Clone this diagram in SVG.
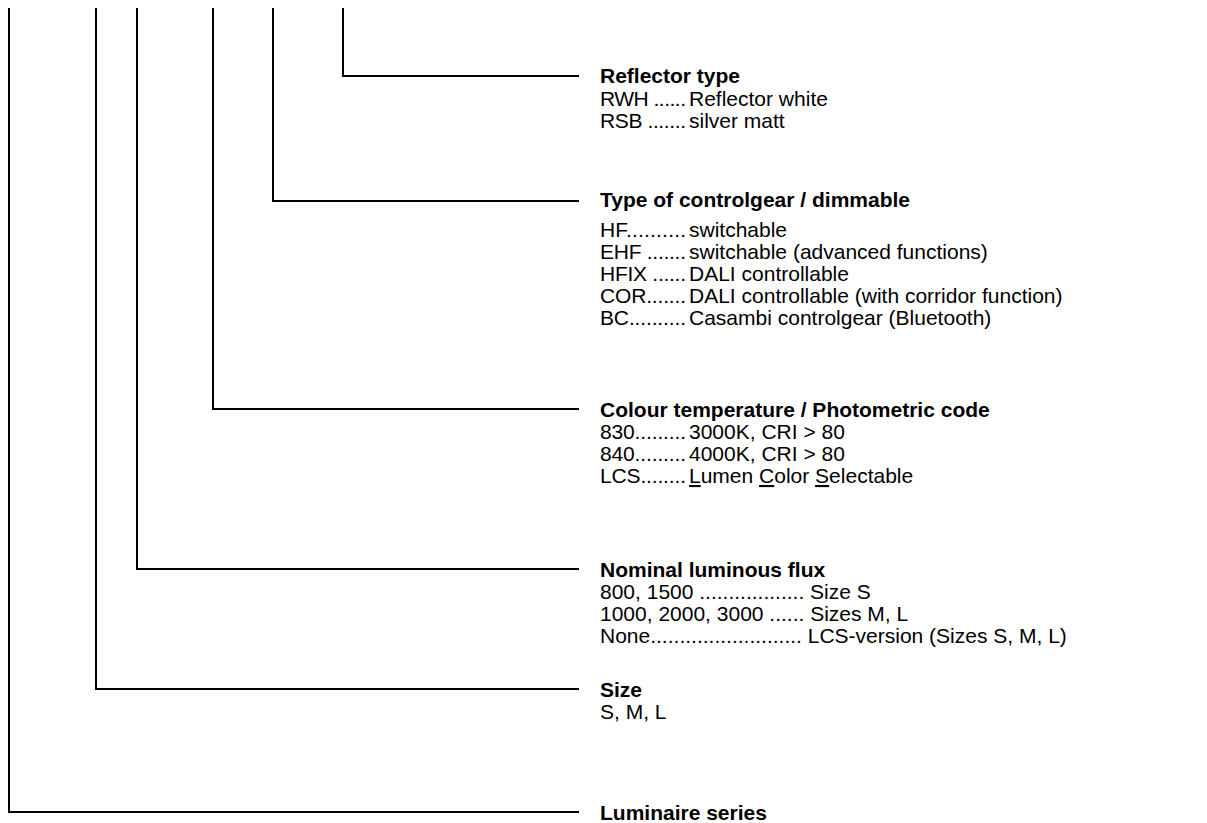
<svg xmlns="http://www.w3.org/2000/svg" width="1207" height="823" viewBox="0 0 1207 823">
<style>
.ln{fill:none;stroke:#000;stroke-width:2}
text{font-family:"Liberation Sans",Arial,sans-serif;font-size:21px;fill:#000}
.t{font-weight:bold}
</style>
<rect width="1207" height="823" fill="#fff"/>
<g id="connectors">
<path class="ln" d="M343,8V76H579"/>
<path class="ln" d="M273,8V201H579"/>
<path class="ln" d="M213,8V409H579"/>
<path class="ln" d="M137,8V569H579"/>
<path class="ln" d="M96,8V689H579"/>
<path class="ln" d="M9,8V812H579"/>
</g>
<g id="reflector">
<text class="t" x="600" y="83">Reflector type</text>
<text x="600" y="106" textLength="86" lengthAdjust="spacing">RWH ......</text><text x="689" y="106">Reflector white</text>
<text x="600" y="128" textLength="86" lengthAdjust="spacing">RSB .......</text><text x="689" y="128">silver matt</text>
</g>
<g id="controlgear">
<text class="t" x="600" y="207">Type of controlgear / dimmable</text>
<text x="600" y="237" textLength="86" lengthAdjust="spacing">HF..........</text><text x="689" y="237">switchable</text>
<text x="600" y="259" textLength="86" lengthAdjust="spacing">EHF .......</text><text x="689" y="259">switchable (advanced functions)</text>
<text x="600" y="281" textLength="86" lengthAdjust="spacing">HFIX ......</text><text x="689" y="281">DALI controllable</text>
<text x="600" y="303" textLength="86" lengthAdjust="spacing">COR.......</text><text x="689" y="303">DALI controllable (with corridor function)</text>
<text x="600" y="325" textLength="86" lengthAdjust="spacing">BC..........</text><text x="689" y="325">Casambi controlgear (Bluetooth)</text>
</g>
<g id="colour">
<text class="t" x="600" y="417">Colour temperature / Photometric code</text>
<text x="600" y="439" textLength="86" lengthAdjust="spacing">830.........</text><text x="689" y="439">3000K, CRI &gt; 80</text>
<text x="600" y="461" textLength="86" lengthAdjust="spacing">840.........</text><text x="689" y="461">4000K, CRI &gt; 80</text>
<text x="600" y="483" textLength="86" lengthAdjust="spacing">LCS........</text><text x="689" y="483"><tspan text-decoration="underline">L</tspan>umen <tspan text-decoration="underline">C</tspan>olor <tspan text-decoration="underline">S</tspan>electable</text>
</g>
<g id="flux">
<text class="t" x="600" y="577">Nominal luminous flux</text>
<text x="600" y="599">800, 1500 .................. Size S</text>
<text x="600" y="621">1000, 2000, 3000 ...... Sizes M, L</text>
<text x="600" y="643">None.......................... LCS-version (Sizes S, M, L)</text>
</g>
<g id="size">
<text class="t" x="600" y="697">Size</text>
<text x="600" y="719">S, M, L</text>
</g>
<g id="series">
<text class="t" x="600" y="820">Luminaire series</text>
</g>
</svg>
